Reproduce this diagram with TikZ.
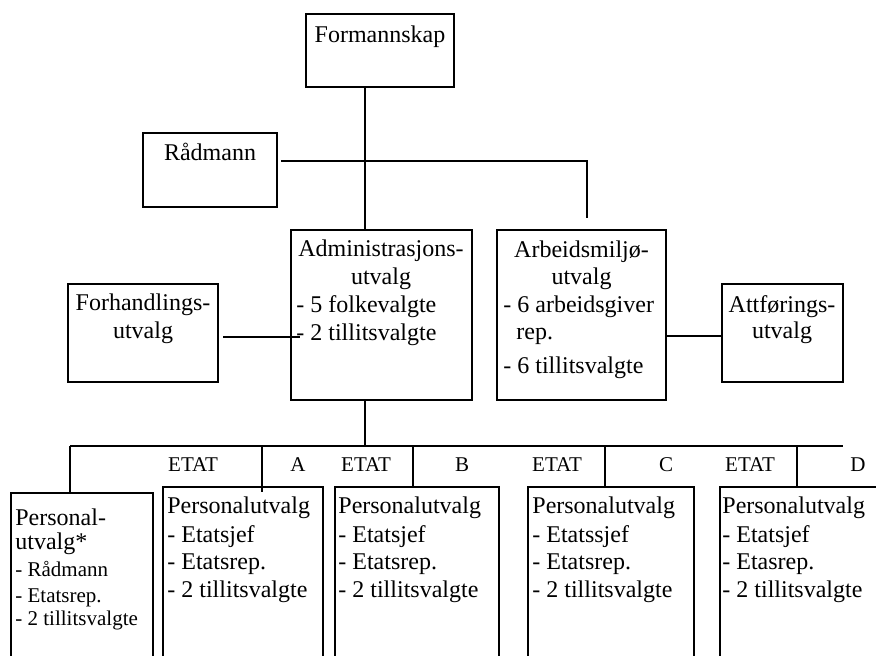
\documentclass[tikz,border=0pt]{standalone}
\usepackage{fontspec}
\setmainfont{Liberation Serif}
\usetikzlibrary{fit}
\begin{document}
\begin{tikzpicture}[x=0.5pt,y=-0.5pt,
  box/.style={draw, line width=1pt, inner sep=0pt},
  txt/.style={inner sep=0pt, font=\fontsize{12}{14}\selectfont},
  sml/.style={inner sep=0pt, font=\fontsize{10.5}{12.5}\selectfont},
  link/.style={draw, line width=1pt}]
\clip (0,0) rectangle (876,655);
% boxes
\node[box, fit={(306,14) (454,87)}] (form) {};
\node[box, fit={(143,133) (277,207)}] (radm) {};
\node[box, fit={(291,230) (472,400)}] (admin) {};
\node[box, fit={(68,284) (218,382)}] (forh) {};
\node[box, fit={(497,230) (666,400)}] (arb) {};
\node[box, fit={(722,284) (843,382)}] (attf) {};
\node[box, fit={(11,493) (153,720)}] (pers) {};
\node[box, fit={(163,487) (323,720)}] (boxA) {};
\node[box, fit={(335,487) (499,720)}] (boxB) {};
\node[box, fit={(528,487) (694,720)}] (boxC) {};
\node[box, fit={(720,487) (920,720)}] (boxD) {};
% junction coordinates
\coordinate (j1) at (365,161);
\coordinate (j2) at (587,161);
\coordinate (j3) at (587,218);
\coordinate (busL) at (70,446);
\coordinate (busR) at (843,446);
\coordinate (tA) at (262,446);
\coordinate (tB) at (413,446);
\coordinate (tC) at (605,446);
\coordinate (tD) at (797,446);
\coordinate (fe) at (223,337);
\coordinate (ae) at (300,337);
% connectors
\path[link] (j1 |- form.south) -- (j1 |- admin.north);
\path[link] ([xshift=1.5pt]radm.east |- j1) -- (j2) -- (j3);
\path[link] (fe) -- (ae);
\path[link] (arb.east |- 0,336) -- (attf.west |- 0,336);
\path[link] (j1 |- admin.south) -- (j1 |- busL);
\path[link] (busL) -- (busR);
\path[link] (busL) -- (busL |- pers.north);
\path[link] (tA) -- ([yshift=-3pt]tA |- boxA.north);
\path[link] (tB) -- (tB |- boxB.north);
\path[link] (tC) -- (tC |- boxC.north);
\path[link] (tD) -- (tD |- boxD.north);
% texts upper
\node[txt, anchor=base] (t1) at (380,42) {Formannskap};
\node[txt, anchor=base] (t2) at (210,160) {Rådmann};
\node[txt, anchor=base] (t3) at (381,256) {Administrasjons-};
\node[txt, anchor=base] (t4) at (381,284) {utvalg};
\node[txt, anchor=base west] (t5) at (296,312) {- 5 folkevalgte};
\node[txt, anchor=base west] (t6) at (296,340) {- 2 tillitsvalgte};
\node[txt, anchor=base] (t7) at (143,310) {Forhandlings-};
\node[txt, anchor=base] (t8) at (143,338) {utvalg};
\node[txt, anchor=base] (t9) at (581.5,257) {Arbeidsmiljø-};
\node[txt, anchor=base] (t10) at (581.5,284) {utvalg};
\node[txt, anchor=base west] (t11) at (503,312) {- 6 arbeidsgiver};
\node[txt, anchor=base west] (t12) at (516,339) {rep.};
\node[txt, anchor=base west] (t13) at (503,373) {- 6 tillitsvalgte};
\node[txt, anchor=base] (t14) at (782,312) {Attførings-};
\node[txt, anchor=base] (t15) at (782,338) {utvalg};
% ETAT labels
\node[sml, anchor=base] (eA) at (193,471) {ETAT};
\node[sml, anchor=base] (lA) at (298,471) {A};
\node[sml, anchor=base] (eB) at (366,471) {ETAT};
\node[sml, anchor=base] (lB) at (462,471) {B};
\node[sml, anchor=base] (eC) at (557,471) {ETAT};
\node[sml, anchor=base] (lC) at (666,471) {C};
\node[sml, anchor=base] (eD) at (750,471) {ETAT};
\node[sml, anchor=base] (lD) at (858,471) {D};
% Personal*
\node[txt, anchor=base west] (p1) at (15,525) {Personal-};
\node[txt, anchor=base west] (p2) at (15,549) {utvalg*};
\node[sml, anchor=base west] (p3) at (15,576) {- Rådmann};
\node[sml, anchor=base west] (p4) at (15,602) {- Etatsrep.};
\node[sml, anchor=base west] (p5) at (15,625) {- 2 tillitsvalgte};
% A
\node[txt, anchor=base west] (a1) at (167,513) {Personalutvalg};
\node[txt, anchor=base west] (a2) at (167,542) {- Etatsjef};
\node[txt, anchor=base west] (a3) at (167,569) {- Etatsrep.};
\node[txt, anchor=base west] (a4) at (167,597) {- 2 tillitsvalgte};
% B
\node[txt, anchor=base west] (b1) at (338,513) {Personalutvalg};
\node[txt, anchor=base west] (b2) at (338,542) {- Etatsjef};
\node[txt, anchor=base west] (b3) at (338,569) {- Etatsrep.};
\node[txt, anchor=base west] (b4) at (338,597) {- 2 tillitsvalgte};
% C
\node[txt, anchor=base west] (c1) at (532,513) {Personalutvalg};
\node[txt, anchor=base west] (c2) at (532,542) {- Etatssjef};
\node[txt, anchor=base west] (c3) at (532,569) {- Etatsrep.};
\node[txt, anchor=base west] (c4) at (532,597) {- 2 tillitsvalgte};
% D
\node[txt, anchor=base west] (d1) at (722,513) {Personalutvalg};
\node[txt, anchor=base west] (d2) at (722,542) {- Etatsjef};
\node[txt, anchor=base west] (d3) at (722,569) {- Etasrep.};
\node[txt, anchor=base west] (d4) at (722,597) {- 2 tillitsvalgte};
\end{tikzpicture}
\end{document}
